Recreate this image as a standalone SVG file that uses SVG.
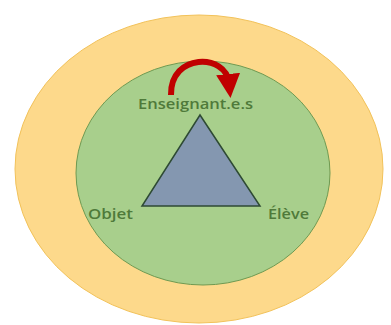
<svg xmlns="http://www.w3.org/2000/svg" width="391" height="325" viewBox="0 0 391 325">
<style>
.lbl{font-family:"Open Sans","Liberation Sans",sans-serif;font-size:15px;font-weight:600;fill:#4f7a3a;}
</style>
<defs>
<marker id="ah" markerWidth="4" markerHeight="4" refX="1.5" refY="2" orient="auto" markerUnits="strokeWidth">
<path d="M0,0 L4,2 L0,4 z" fill="#c00000"/>
</marker>
</defs>
<rect width="391" height="325" fill="#ffffff"/>
<g id="outer"><ellipse cx="199" cy="169" rx="184" ry="154" fill="#fdd98b" stroke="#f2c25a" stroke-width="1"/></g>
<g id="inner"><ellipse cx="203" cy="173" rx="127" ry="112" fill="#a8cf8c" stroke="#6e9a52" stroke-width="1"/></g>
<g id="triangle"><polygon points="200,115 142,206 260,206" fill="#8497b0" stroke="#2e4a34" stroke-width="1.5"/></g>
<g id="connectors"><path d="M171,95 C170,53 226,53 229,83" fill="none" stroke="#c00000" stroke-width="6" marker-end="url(#ah)"/></g>
<g id="n-ens"><text class="lbl" x="138" y="109" textLength="115" lengthAdjust="spacingAndGlyphs">Enseignant.e.s</text></g>
<g id="n-obj"><text class="lbl" x="88" y="219" textLength="45" lengthAdjust="spacingAndGlyphs">Objet</text></g>
<g id="n-ele"><text class="lbl" x="268" y="219" textLength="41" lengthAdjust="spacingAndGlyphs">Élève</text></g>
</svg>
